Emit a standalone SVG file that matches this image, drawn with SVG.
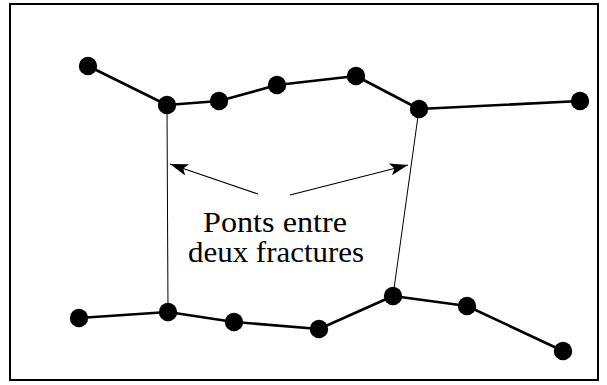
<svg xmlns="http://www.w3.org/2000/svg" width="607" height="385" viewBox="0 0 607 385">
<style>
.frac{fill:none;stroke:#000;stroke-width:2.6;stroke-linejoin:round}
.bridge{fill:none;stroke:#000;stroke-width:1}
.arr{fill:none;stroke:#000;stroke-width:1.2}
.dot{fill:#000}
.lbl{font-family:"Liberation Serif","DejaVu Serif",serif;font-size:30px;fill:#000;text-anchor:middle}
</style>
<defs>
<marker id="ah" markerWidth="20" markerHeight="12" refX="18" refY="6" orient="auto" markerUnits="userSpaceOnUse">
<path d="M0,0 L18,6 L0,12 L4,6 Z" fill="#000"/>
</marker>
</defs>
<rect x="10" y="4" width="588" height="376" fill="#fff" stroke="#000" stroke-width="2"/>
<g id="connectors">
<polyline class="frac" points="88,66 167,105 219,101 277,85 356,76 419,109 580,101"/>
<polyline class="frac" points="79,318 168,312 234,322 319,329 393,296 467,306 563,351"/>
<line class="bridge" x1="167" y1="105" x2="168" y2="312"/>
<line class="bridge" x1="419" y1="109" x2="393" y2="296"/>
<line class="arr" x1="258" y1="194" x2="170" y2="164" marker-end="url(#ah)"/>
<line class="arr" x1="290" y1="195" x2="408" y2="165" marker-end="url(#ah)"/>
</g>
<g id="top-fracture">
<circle class="dot" cx="88" cy="66" r="9.2"/>
<circle class="dot" cx="167" cy="105" r="9.2"/>
<circle class="dot" cx="219" cy="101" r="9.2"/>
<circle class="dot" cx="277" cy="85" r="9.2"/>
<circle class="dot" cx="356" cy="76" r="9.2"/>
<circle class="dot" cx="419" cy="109" r="9.2"/>
<circle class="dot" cx="580" cy="101" r="9.2"/>
</g>
<g id="bottom-fracture">
<circle class="dot" cx="79" cy="318" r="9.2"/>
<circle class="dot" cx="168" cy="312" r="9.2"/>
<circle class="dot" cx="234" cy="322" r="9.2"/>
<circle class="dot" cx="319" cy="329" r="9.2"/>
<circle class="dot" cx="393" cy="296" r="9.2"/>
<circle class="dot" cx="467" cy="306" r="9.2"/>
<circle class="dot" cx="563" cy="351" r="9.2"/>
</g>
<g id="label">
<text class="lbl" x="275" y="232" textLength="144" lengthAdjust="spacingAndGlyphs">Ponts entre</text>
<text class="lbl" x="276" y="262" textLength="176" lengthAdjust="spacingAndGlyphs">deux fractures</text>
</g>
</svg>
